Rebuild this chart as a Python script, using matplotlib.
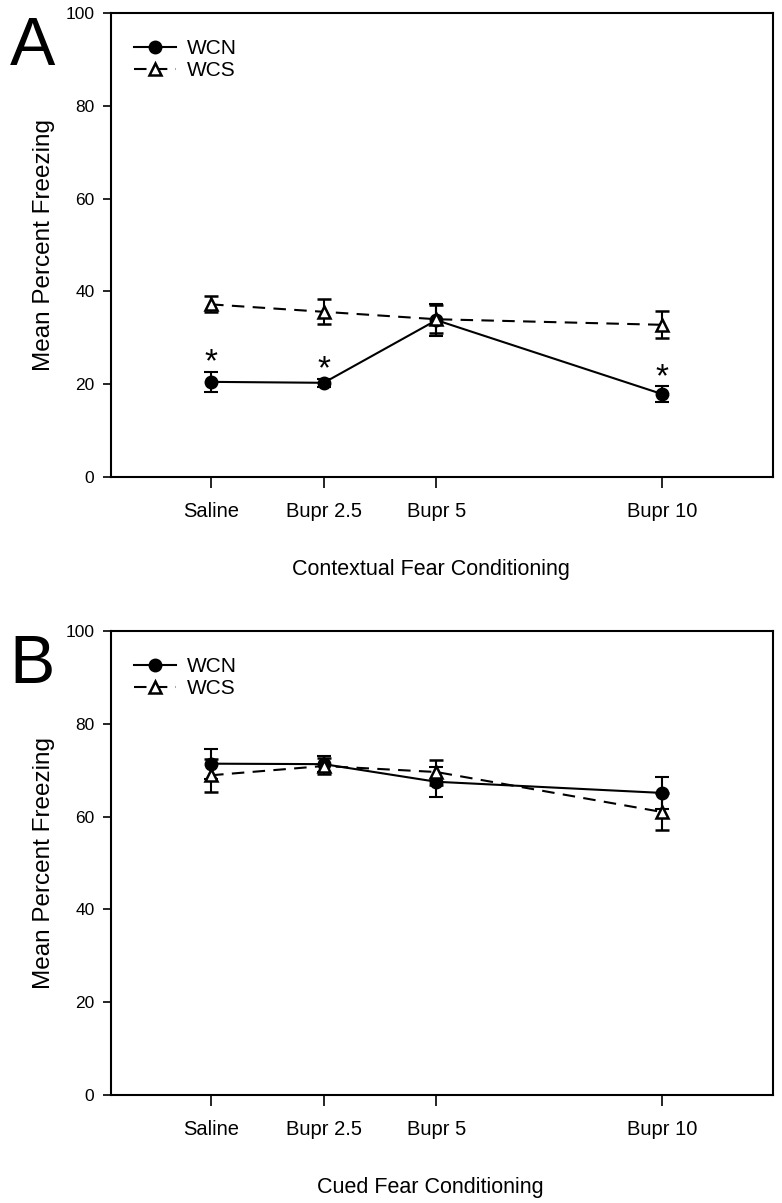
import matplotlib
matplotlib.use('Agg')
import matplotlib.pyplot as plt
from matplotlib.lines import Line2D

# Daten
doses = [0, 2.5, 5, 10]
tick_labels = ['Saline', 'Bupr 2.5', 'Bupr 5', 'Bupr 10']

ctx_wcn = [20.5, 20.3, 33.8, 17.9]
ctx_wcn_err = [2.2, 0.9, 3.4, 1.7]
ctx_wcs = [37.2, 35.6, 34.0, 32.8]
ctx_wcs_err = [1.7, 2.7, 3.0, 2.9]
ctx_stars = [True, True, False, True]

cue_wcn = [71.4, 71.3, 67.5, 65.1]
cue_wcn_err = [3.2, 1.8, 3.2, 3.4]
cue_wcs = [68.9, 70.9, 69.6, 61.0]
cue_wcs_err = [3.5, 1.8, 2.7, 4.0]

FONT = 'Liberation Sans'
plt.rcParams['font.family'] = [FONT, 'DejaVu Sans']

DASH = (0, (6, 4))

fig = plt.figure(figsize=(7.82, 12.03), dpi=100)
ax_a = fig.add_axes([0.142, 0.6035, 0.8465, 0.3857])
ax_b = fig.add_axes([0.142, 0.0898, 0.8465, 0.3857])


def draw_panel(ax, wcn, wcn_err, wcs, wcs_err, xlabel, letter, stars=None):
    ax.errorbar(doses, wcn, yerr=wcn_err, color='black', linestyle='-',
                linewidth=1.5, marker='o', markersize=9, markerfacecolor='black',
                capsize=5, capthick=1.5, elinewidth=1.5, zorder=3)
    ax.errorbar(doses, wcs, yerr=wcs_err, color='black', linestyle=DASH,
                linewidth=1.5, marker='^', markersize=9, markerfacecolor='white',
                markeredgewidth=1.8, capsize=5, capthick=1.5, elinewidth=1.5,
                zorder=4)

    if stars is not None:
        for x, y, e, s in zip(doses, wcn, wcn_err, stars):
            if s:
                ax.annotate('*', (x, y + e), xytext=(0, -5), textcoords='offset points',
                            ha='center', va='bottom', fontsize=24)

    ax.set_xlim(-2.22, 12.47)
    ax.set_ylim(0, 100)
    ax.set_yticks([0, 20, 40, 60, 80, 100])
    ax.set_xticks(doses)
    ax.set_xticklabels(tick_labels)
    ax.tick_params(axis='x', direction='out', length=8, width=1.2, pad=10, labelsize=14.5)
    ax.tick_params(axis='y', direction='out', length=6, width=1.2, pad=6, labelsize=12.5)
    for sp in ax.spines.values():
        sp.set_linewidth(1.5)

    ax.set_ylabel('Mean Percent Freezing', fontsize=17.5)
    ax.yaxis.set_label_coords(-0.084, 0.5)
    ax.set_xlabel(xlabel, fontsize=15.5)
    ax.xaxis.set_label_coords(0.483, -0.176)

    # Legende nur mit Linie und Marker (ohne Fehlerbalken)
    handles = [
        Line2D([], [], color='black', linestyle='-', linewidth=1.5, marker='o',
               markersize=9, markerfacecolor='black'),
        Line2D([], [], color='black', linestyle=DASH, linewidth=1.5, marker='^',
               markersize=9, markerfacecolor='white', markeredgewidth=1.8),
    ]
    ax.legend(handles, ['WCN', 'WCS'], loc='upper left', frameon=False, fontsize=15,
              handlelength=2.0, handletextpad=0.55, labelspacing=0.15,
              borderaxespad=0.7, borderpad=0.4, bbox_to_anchor=(0.0, 0.993))

    ax.text(-0.153, 0.995, letter, transform=ax.transAxes, fontsize=49,
            ha='left', va='top')


draw_panel(ax_a, ctx_wcn, ctx_wcn_err, ctx_wcs, ctx_wcs_err,
           'Contextual Fear Conditioning', 'A', stars=ctx_stars)
draw_panel(ax_b, cue_wcn, cue_wcn_err, cue_wcs, cue_wcs_err,
           'Cued Fear Conditioning', 'B')

fig.savefig('out.png', dpi=100)
